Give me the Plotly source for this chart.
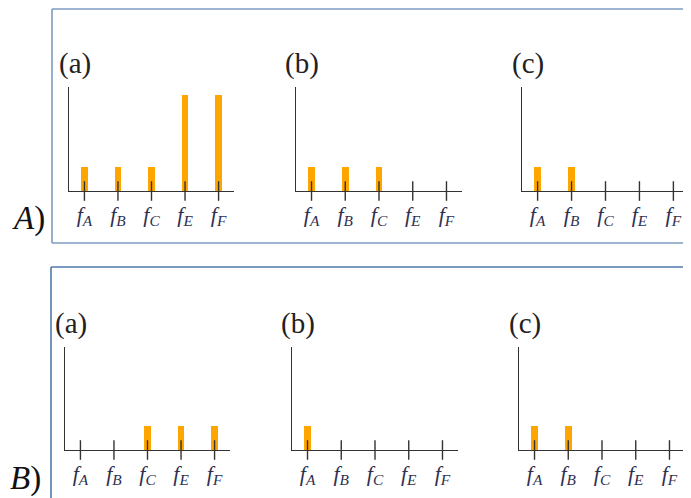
import plotly.graph_objects as go

# frequency categories and bar heights for each panel
freqs = ["A", "B", "C", "E", "F"]
row_A_a = [1, 1, 1, 4, 4]
row_A_b = [1, 1, 1, 0, 0]
row_A_c = [1, 1, 0, 0, 0]
row_B_a = [0, 0, 1, 1, 1]
row_B_b = [1, 0, 0, 0, 0]
row_B_c = [1, 1, 0, 0, 0]
panel_names = ["(a)", "(b)", "(c)"]
row_names = ["A", "B"]

# the page body adds an 8px margin, so work in page pixels and shift
OFF = 8
W, H = 691 - OFF, 498 - OFF
SERIF = "Liberation Serif, Times New Roman, serif"
ORANGE = "#FFA500"
INK = "#333333"


def px(x):
    return (x - OFF) / W


def py(y):
    return 1 - (y - OFF) / H


# (values, x0, x1, top, baseline) in page pixels
panels = [
    (row_A_a, 69, 234, 87, 191),
    (row_A_b, 296, 462, 87, 191),
    (row_A_c, 522, 689, 87, 191),
    (row_B_a, 65, 230, 347, 450),
    (row_B_b, 292, 458, 347, 450),
    (row_B_c, 519, 685, 347, 450),
]

tick_text = ["<i>f</i><sub><i>%s</i></sub>" % f for f in freqs]
xs = list(range(len(freqs)))

fig = go.Figure()
layout = {}
annotations = []

for i, (vals, x0, x1, top, base) in enumerate(panels):
    n = "" if i == 0 else str(i + 1)
    fig.add_trace(go.Bar(
        x=xs, y=vals, width=0.2, marker=dict(color=ORANGE, line=dict(width=0)),
        xaxis="x" + n, yaxis="y" + n, showlegend=False,
    ))
    fig.add_trace(go.Scatter(
        x=xs, y=[0] * len(xs), mode="markers", cliponaxis=False,
        marker=dict(symbol="line-ns", size=14, line=dict(width=1.4, color=INK)),
        xaxis="x" + n, yaxis="y" + n, showlegend=False,
    ))
    layout["xaxis" + n] = dict(
        domain=[px(x0), px(x1)], range=[-0.46, 4.46], anchor="y" + n,
        tickvals=xs, ticktext=tick_text, ticks="outside", ticklen=3,
        tickcolor="rgba(0,0,0,0)", showline=True, linecolor=INK, linewidth=1.4,
        showgrid=False, zeroline=False, fixedrange=True,
        tickfont=dict(family=SERIF, size=22, color="#2f3050"),
    )
    layout["yaxis" + n] = dict(
        domain=[py(base), py(top)], range=[0, 4.33], anchor="x" + n,
        showline=True, linecolor=INK, linewidth=1.4, showticklabels=False,
        ticks="", showgrid=False, zeroline=False, fixedrange=True,
    )
    annotations.append(dict(
        text=panel_names[i % 3], x=px(x0 + 6), y=py(top - 24),
        xref="paper", yref="paper", xanchor="center", yanchor="middle",
        showarrow=False, font=dict(family=SERIF, size=29, color="#222222"),
    ))

# row labels A) and B)
for name, (lx, ly) in zip(row_names, [(28, 218), (25, 478)]):
    annotations.append(dict(
        text="<i>%s</i>)" % name, x=px(lx), y=py(ly), xref="paper", yref="paper",
        xanchor="center", yanchor="middle",
        showarrow=False, font=dict(family=SERIF, size=33, color="#111111"),
    ))

# frame lines around the two rows (open on the right)
A_COL, B_COL = "#7d9cc0", "#4f78aa"
frame = [
    (52, 9, 52, 243, A_COL), (52, 9, 700, 9, A_COL), (52, 243, 700, 243, A_COL),
    (51, 267, 51, 510, B_COL), (51, 267, 700, 267, B_COL),
]
shapes = [
    dict(type="line", xref="paper", yref="paper",
         x0=px(a), y0=py(b), x1=px(c), y1=py(d), line=dict(color=col, width=1.6))
    for a, b, c, d, col in frame
]

fig.update_layout(
    width=W, height=H, margin=dict(l=0, r=0, t=0, b=0),
    paper_bgcolor="white", plot_bgcolor="white",
    annotations=annotations, shapes=shapes, bargap=0,
    **layout,
)

fig.write_html("out.html")
